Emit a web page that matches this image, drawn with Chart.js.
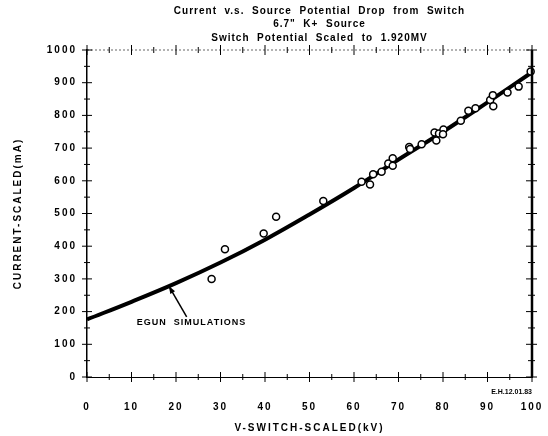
<!DOCTYPE html>
<html>
<head>
<meta charset="utf-8">
<script src="https://cdn.jsdelivr.net/npm/chart.js@4"></script>
<style>
  html, body { margin: 0; padding: 0; background: #fff; }
  #wrap { width: 548px; height: 436px; }
</style>
</head>
<body>
<div id="wrap"><canvas id="currentChart" width="548" height="436"></canvas></div>
<script>
// EGUN simulation curve
const simVolts = [0, 10, 20, 30, 40, 50, 60, 70, 80, 90, 100];
const simCurrent = [176, 230, 287, 350, 420, 497, 578, 665, 750, 840, 932];

// measured points
const measVolts = [28, 31, 39.7, 42.5, 53.1, 61.7, 63.6, 64.3, 66.2, 67.7, 68.7, 68.7, 72.4, 72.6, 75.2,
  78.1, 78.5, 79.1, 80.1, 80, 84, 85.7, 87.3, 90.6, 91.2, 91.3, 94.5, 97, 99.7];
const measCurrent = [300, 391, 439, 490, 538, 597, 589, 620, 628, 653, 669, 646, 703, 697, 712,
  748, 723, 745, 757, 742, 784, 814, 822, 847, 862, 828, 870, 888, 934];

const titleLines = [
  "Current  v.s.  Source  Potential  Drop  from  Switch",
  "6.7\"  K+  Source",
  "Switch  Potential  Scaled  to  1.920MV"
];
const noteText = "EGUN  SIMULATIONS";
const stampText = "E.H.12.01.83";

const FONT = "'Liberation Sans', Arial, sans-serif";

// letter spacing for the old plotter look
const spacing = {
  id: "spacing",
  beforeUpdate(chart) { chart.ctx.letterSpacing = "2px"; },
  beforeDraw(chart) { chart.ctx.letterSpacing = "2px"; }
};

// box ticks, title, annotation
const decor = {
  id: "decor",
  afterDatasetsDraw(chart) {
    const ctx = chart.ctx;
    const x = chart.scales.x, y = chart.scales.y;
    const a = chart.chartArea;
    ctx.save();
    ctx.strokeStyle = "#000";
    // right border thick
    ctx.lineWidth = 2.5;
    ctx.beginPath(); ctx.moveTo(a.right, a.top); ctx.lineTo(a.right, a.bottom); ctx.stroke();
    // top border dotted
    ctx.lineWidth = 1;
    ctx.strokeStyle = "#666";
    ctx.setLineDash([2, 2]);
    ctx.beginPath(); ctx.moveTo(a.left, a.top); ctx.lineTo(a.right, a.top); ctx.stroke();
    ctx.setLineDash([]);
    ctx.strokeStyle = "#000";
    // ticks
    ctx.lineWidth = 1;
    for (let v = 0; v <= 100; v += 5) {
      const px = x.getPixelForValue(v);
      const len = v % 10 === 0 ? 5 : 3;
      ctx.beginPath();
      ctx.moveTo(px, a.bottom - len); ctx.lineTo(px, a.bottom + len);
      ctx.moveTo(px, a.top - len); ctx.lineTo(px, a.top + len);
      ctx.stroke();
    }
    for (let v = 0; v <= 1000; v += 50) {
      const py = y.getPixelForValue(v);
      const len = v % 100 === 0 ? 5 : 3;
      ctx.beginPath();
      ctx.moveTo(a.left - len, py); ctx.lineTo(a.left + len, py);
      ctx.moveTo(a.right - len - 1, py); ctx.lineTo(a.right + len, py);
      ctx.stroke();
    }
    // annotation
    ctx.fillStyle = "#000";
    ctx.letterSpacing = "1px";
    ctx.font = "bold 9px " + FONT;
    ctx.textAlign = "left";
    ctx.textBaseline = "middle";
    ctx.fillText(noteText, x.getPixelForValue(11.2), y.getPixelForValue(166));
    const tx = x.getPixelForValue(22.4), ty = y.getPixelForValue(184);
    const hx = x.getPixelForValue(18.4), hy = y.getPixelForValue(278);
    ctx.lineWidth = 1.5;
    ctx.beginPath(); ctx.moveTo(tx, ty); ctx.lineTo(hx, hy); ctx.stroke();
    const ang = Math.atan2(hy - ty, hx - tx);
    ctx.beginPath();
    ctx.moveTo(hx, hy);
    ctx.lineTo(hx - 8 * Math.cos(ang - 0.35), hy - 8 * Math.sin(ang - 0.35));
    ctx.lineTo(hx - 8 * Math.cos(ang + 0.35), hy - 8 * Math.sin(ang + 0.35));
    ctx.closePath(); ctx.fill();
    // stamp
    ctx.letterSpacing = "0px";
    ctx.font = "bold 7px " + FONT;
    ctx.textAlign = "right";
    ctx.fillText(stampText, a.right, a.bottom + 15);
    // title
    ctx.letterSpacing = "1px";
    ctx.font = "bold 10px " + FONT;
    ctx.textAlign = "center";
    const cx = (a.left + a.right) / 2 + 10;
    titleLines.forEach((t, i) => ctx.fillText(t, cx, 11 + i * 13.5));
    ctx.restore();
  }
};

new Chart(document.getElementById("currentChart"), {
  type: "scatter",
  data: {
    datasets: [
      {
        type: "line",
        label: "EGUN",
        data: simVolts.map((v, i) => ({ x: v, y: simCurrent[i] })),
        borderColor: "#000",
        borderWidth: 4,
        pointRadius: 0,
        tension: 0.4,
        fill: false,
        order: 2
      },
      {
        label: "Measured",
        data: measVolts.map((v, i) => ({ x: v, y: measCurrent[i] })),
        borderColor: "#000",
        backgroundColor: "#fff",
        borderWidth: 1.5,
        pointRadius: 3.5,
        clip: false,
        order: 1
      }
    ]
  },
  options: {
    responsive: false,
    animation: false,
    layout: { padding: { top: 50, right: 16, left: 0, bottom: 0 } },
    plugins: { legend: { display: false }, tooltip: { enabled: false } },
    scales: {
      x: {
        type: "linear",
        min: 0,
        max: 100,
        afterFit: (s) => { s.height = 59; s.paddingLeft = 0; s.paddingRight = 0; },
        ticks: {
          stepSize: 10,
          padding: 24,
          color: "#000",
          font: { family: FONT, size: 10, weight: "bold" }
        },
        grid: { display: false, drawTicks: false },
        border: { display: true, color: "#000", width: 1 },
        title: {
          display: true,
          text: "V-SWITCH-SCALED(kV)",
          color: "#000",
          font: { family: FONT, size: 10, weight: "bold" },
          padding: { top: 0, bottom: 2 }
        }
      },
      y: {
        type: "linear",
        min: 0,
        max: 1000,
        afterFit: (s) => { s.width = 87; s.paddingTop = 0; s.paddingBottom = 0; },
        ticks: {
          stepSize: 100,
          padding: 10,
          color: "#000",
          callback: (v) => String(v),
          font: { family: FONT, size: 10, weight: "bold" }
        },
        grid: { display: false, drawTicks: false },
        border: { display: true, color: "#000", width: 1.5 },
        title: {
          display: true,
          text: "CURRENT-SCALED(mA)",
          color: "#000",
          font: { family: FONT, size: 10, weight: "bold" },
          padding: { top: 12, bottom: 0 }
        }
      }
    }
  },
  plugins: [spacing, decor]
});
</script>
</body>
</html>
